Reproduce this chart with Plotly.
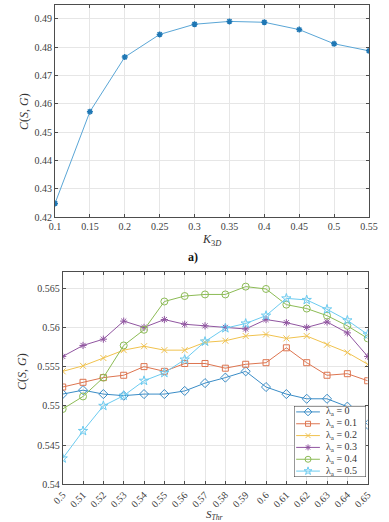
import plotly.graph_objects as go

# ---------------- data ----------------
k3d = [0.10, 0.15, 0.20, 0.25, 0.30, 0.35, 0.40, 0.45, 0.50, 0.55]
c_top = [0.4248, 0.4572, 0.4765, 0.4845, 0.4881, 0.4891, 0.4888, 0.4862, 0.4812, 0.4787]
top_xticks = [0.10, 0.15, 0.20, 0.25, 0.30, 0.35, 0.40, 0.45, 0.50, 0.55]
top_xtext = ["0.1", "0.15", "0.2", "0.25", "0.3", "0.35", "0.4", "0.45", "0.5", "0.55"]
top_yticks = [0.42, 0.43, 0.44, 0.45, 0.46, 0.47, 0.48, 0.49]
top_ytext = ["0.42", "0.43", "0.44", "0.45", "0.46", "0.47", "0.48", "0.49"]

s_thr = [0.50, 0.51, 0.52, 0.53, 0.54, 0.55, 0.56, 0.57, 0.58, 0.59, 0.60, 0.61, 0.62, 0.63, 0.64, 0.65]
s_text = ["0.5", "0.51", "0.52", "0.53", "0.54", "0.55", "0.56", "0.57", "0.58", "0.59",
          "0.6", "0.61", "0.62", "0.63", "0.64", "0.65"]
bot_yticks = [0.540, 0.545, 0.550, 0.555, 0.560, 0.565]
bot_ytext = ["0.54", "0.545", "0.55", "0.555", "0.56", "0.565"]

lam_names = ["λ<sub>a</sub> = 0", "λ<sub>a</sub> = 0.1", "λ<sub>a</sub> = 0.2",
             "λ<sub>a</sub> = 0.3", "λ<sub>a</sub> = 0.4", "λ<sub>a</sub> = 0.5"]
c_lam0 = [0.5515, 0.5520, 0.5515, 0.5513, 0.5515, 0.5515, 0.5519, 0.5529, 0.5536, 0.5544, 0.5524, 0.5515, 0.5509, 0.5509, 0.5499, 0.5476]
c_lam1 = [0.5524, 0.5530, 0.5536, 0.5539, 0.5550, 0.5544, 0.5554, 0.5554, 0.5548, 0.5553, 0.5555, 0.5574, 0.5555, 0.5539, 0.5541, 0.5532]
c_lam2 = [0.5544, 0.5551, 0.5561, 0.5571, 0.5576, 0.5571, 0.5571, 0.5581, 0.5583, 0.5589, 0.5591, 0.5586, 0.5589, 0.5578, 0.5568, 0.5553]
c_lam3 = [0.5563, 0.5577, 0.5585, 0.5608, 0.5600, 0.5610, 0.5604, 0.5602, 0.5600, 0.5598, 0.5610, 0.5606, 0.5600, 0.5607, 0.5593, 0.5563]
c_lam4 = [0.5496, 0.5512, 0.5536, 0.5577, 0.5597, 0.5633, 0.5640, 0.5642, 0.5642, 0.5652, 0.5649, 0.5629, 0.5624, 0.5615, 0.5602, 0.5586]
c_lam5 = [0.5433, 0.5468, 0.5500, 0.5513, 0.5532, 0.5542, 0.5559, 0.5582, 0.5599, 0.5605, 0.5615, 0.5637, 0.5635, 0.5623, 0.5609, 0.5591]

# ---------------- styling ----------------
W, H = 389, 522
FONT = "Liberation Serif"
colors = ["#3a8cc6", "#dd7550", "#f0c24e", "#9055a0", "#8cbb55", "#6ccbf0"]
symbols = ["diamond-open", "square-open", "x-thin-open", "asterisk-open", "circle-open", "star-open"]
msizes = [7, 6, 6, 6, 7, 7]


def px_x(p):
    return p / W


def px_y(p):
    return 1 - p / H


fig = go.Figure()

# top chart
fig.add_trace(go.Scatter(
    x=k3d, y=c_top, mode="lines+markers", xaxis="x", yaxis="y",
    line=dict(color="#5aa6d6", width=1),
    marker=dict(symbol="asterisk-open", size=5, color="#1f77b4", line=dict(width=1.5, color="#1f77b4")),
    showlegend=False, hoverinfo="skip",
))

# bottom chart
series = [c_lam0, c_lam1, c_lam2, c_lam3, c_lam4, c_lam5]
for i, ys in enumerate(series):
    fig.add_trace(go.Scatter(
        x=s_thr, y=ys, mode="lines+markers", xaxis="x2", yaxis="y2",
        name=lam_names[i], showlegend=False,
        line=dict(color=colors[i], width=1),
        marker=dict(symbol=symbols[i], size=msizes[i],
                    color=colors[i], line=dict(width=1, color=colors[i])),
    ))

# compact legend (MATLAB-like) drawn on a helper axis over the bottom plot
n = len(lam_names)
fig.add_trace(go.Scatter(
    x=[0, 1, 1, 0, 0], y=[0, 0, n, n, 0], xaxis="x3", yaxis="y3",
    mode="lines", fill="toself", fillcolor="white",
    line=dict(color="#333333", width=1), showlegend=False, hoverinfo="skip",
))
for i in range(n):
    fig.add_trace(go.Scatter(
        x=[0.03, 0.36], y=[i + 0.5, i + 0.5], xaxis="x3", yaxis="y3",
        mode="lines", line=dict(color=colors[i], width=1),
        showlegend=False, hoverinfo="skip",
    ))
    fig.add_trace(go.Scatter(
        x=[0.195], y=[i + 0.5], xaxis="x3", yaxis="y3",
        mode="markers",
        marker=dict(symbol=symbols[i], size=msizes[i] - 1, color=colors[i],
                    line=dict(width=1, color=colors[i])),
        showlegend=False, hoverinfo="skip",
    ))

axis_common = dict(
    showgrid=True, gridcolor="#e6e6e6", gridwidth=1,
    showline=True, linecolor="#4d4d4d", linewidth=1, mirror="ticks",
    ticks="inside", ticklen=3, tickcolor="#4d4d4d",
    tickfont=dict(family=FONT, size=10, color="#404040"),
    zeroline=False, automargin=False,
)

annotations = [
    dict(text="<i>C</i>(<i>S</i>, <i>G</i>)", x=px_x(24), y=px_y(112), xref="paper", yref="paper",
         xanchor="center", yanchor="middle",
         showarrow=False, textangle=-90, font=dict(family=FONT, size=12, color="#333333")),
    dict(text="<i>K</i><sub>3<i>D</i></sub>", x=px_x(212), y=px_y(240), xref="paper", yref="paper",
         xanchor="center", yanchor="middle",
         showarrow=False, font=dict(family=FONT, size=12, color="#333333")),
    dict(text="<b>a)</b>", x=px_x(193), y=px_y(257), xref="paper", yref="paper",
         xanchor="center", yanchor="middle",
         showarrow=False, font=dict(family=FONT, size=12, color="#111111")),
    dict(text="<i>C</i>(<i>S</i>, <i>G</i>)", x=px_x(22), y=px_y(372), xref="paper", yref="paper",
         xanchor="center", yanchor="middle",
         showarrow=False, textangle=-90, font=dict(family=FONT, size=12, color="#333333")),
    dict(text="<i>S</i><sub><i>Thr</i></sub>", x=px_x(215), y=px_y(515), xref="paper", yref="paper",
         xanchor="center", yanchor="middle",
         showarrow=False, font=dict(family=FONT, size=11, color="#333333")),
]
for i in range(n):
    annotations.append(dict(
        text=lam_names[i], x=0.42, y=i + 0.5, xref="x3", yref="y3",
        xanchor="left", yanchor="middle", showarrow=False,
        font=dict(family=FONT, size=10, color="#333333"),
    ))

fig.update_layout(
    width=W, height=H,
    margin=dict(l=0, r=0, t=0, b=0),
    paper_bgcolor="white", plot_bgcolor="white",
    font=dict(family=FONT, color="#333333"),
    showlegend=False,
    xaxis=dict(domain=[px_x(55), px_x(369)], range=[0.1, 0.55],
               tickvals=top_xticks, ticktext=top_xtext, anchor="y", **axis_common),
    yaxis=dict(domain=[px_y(217), px_y(5)], range=[0.42, 0.4949],
               tickvals=top_yticks, ticktext=top_ytext, anchor="x", **axis_common),
    xaxis2=dict(domain=[px_x(62.7), px_x(367.7)], range=[0.5, 0.65],
                tickvals=s_thr, ticktext=s_text, tickangle=-45, anchor="y2", **axis_common),
    yaxis2=dict(domain=[px_y(484.3), px_y(271.7)], range=[0.54, 0.5671],
                tickvals=bot_yticks, ticktext=bot_ytext, anchor="x2", **axis_common),
    xaxis3=dict(domain=[px_x(294), px_x(366)], range=[0, 1], visible=False,
                fixedrange=True, anchor="y3"),
    yaxis3=dict(domain=[px_y(477), px_y(406)], range=[n, 0], visible=False,
                fixedrange=True, anchor="x3"),
    annotations=annotations,
)

fig.write_html("out.html", config={"displayModeBar": False},
               post_script="document.body.style.margin='0';")
